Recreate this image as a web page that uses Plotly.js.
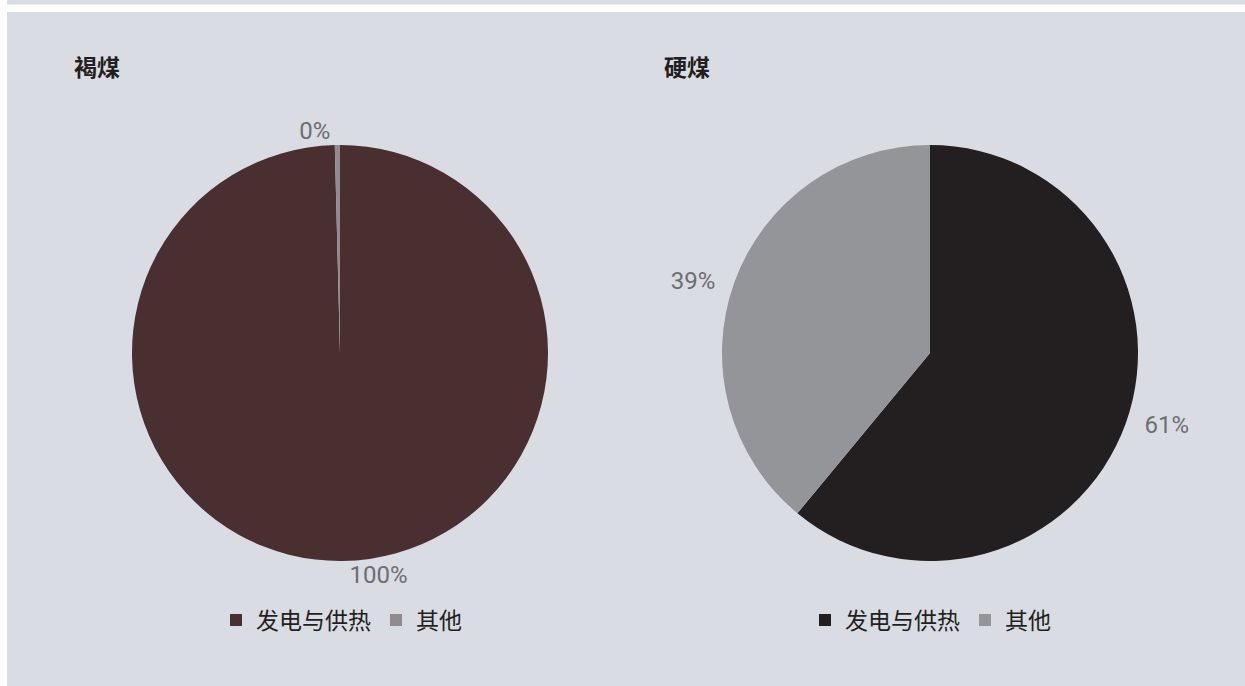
<!DOCTYPE html>
<html>
<head>
<meta charset="utf-8">
<script src="https://cdn.plot.ly/plotly-3.0.1.min.js"></script>
<style>html,body{margin:0;padding:0;background:#fff;}#chart{width:1245px;height:686px;}</style>
</head>
<body>
<div id="chart"></div>
<script>
const categories = ['发电与供热', '其他'];
const ligniteValues = [99.6, 0.4];
const hardCoalValues = [61, 39];
const panelTitles = ['褐煤', '硬煤'];
const ligniteColors = ['#4a2f30', '#928a8d'];
const hardCoalColors = ['#231f20', '#939598'];

const W = 1245, H = 686;
const bg = '#d9dce2';
const cjk = '"Noto Sans CJK SC", "Noto Sans", sans-serif';
const numFont = 'Roboto, "Noto Sans", sans-serif';

function pie(values, colors, x0, x1, legendId, group, templates) {
  return {
    type: 'pie',
    labels: categories,
    values: values,
    marker: {colors: colors, line: {width: 0}},
    sort: false,
    direction: 'clockwise',
    rotation: 0,
    textposition: 'outside',
    texttemplate: templates,
    outsidetextfont: {family: numFont, size: 24, color: '#6d6e71'},
    hoverinfo: 'label+percent',
    domain: {x: [x0 / W, x1 / W], y: [1 - 561 / H, 1 - 145 / H]},
    legend: legendId,
    legendgroup: group,
    automargin: false
  };
}

const data = [
  pie(ligniteValues, ligniteColors, 132, 548, 'legend', 'lignite',
      ['%{percent:.0%}', '%{percent:.0%}']),
  pie(hardCoalValues, hardCoalColors, 722, 1138, 'legend2', 'hardcoal',
      ['  %{percent:.0%}', '%{percent:.0%}  '])
];

const legendStyle = {
  orientation: 'h',
  xanchor: 'center',
  yanchor: 'middle',
  y: 1 - 620 / H,
  font: {family: cjk, size: 23, color: '#231f20'},
  bgcolor: 'rgba(0,0,0,0)',
  itemclick: false,
  traceorder: 'normal',
  itemwidth: 30
};

const layout = {
  width: W,
  height: H,
  margin: {l: 0, r: 0, t: 0, b: 0},
  paper_bgcolor: '#ffffff',
  showlegend: true,
  legend: Object.assign({}, legendStyle, {x: 341.5 / W}),
  legend2: Object.assign({}, legendStyle, {x: 930.5 / W}),
  shapes: [
    {type: 'rect', xref: 'paper', yref: 'paper', x0: 7 / W, x1: 1, y0: 1 - 4.5 / H, y1: 1, fillcolor: bg, line: {width: 0}, layer: 'below'},
    {type: 'rect', xref: 'paper', yref: 'paper', x0: 7 / W, x1: 1, y0: 0, y1: 1 - 12 / H, fillcolor: bg, line: {width: 0}, layer: 'below'}
  ],
  annotations: [
    {text: '<b>' + panelTitles[0] + '</b>', xref: 'paper', yref: 'paper', x: 72 / W, y: 1 - 66 / H, xanchor: 'left', yanchor: 'middle', showarrow: false, font: {family: cjk, size: 23, color: '#231f20'}},
    {text: '<b>' + panelTitles[1] + '</b>', xref: 'paper', yref: 'paper', x: 662 / W, y: 1 - 66 / H, xanchor: 'left', yanchor: 'middle', showarrow: false, font: {family: cjk, size: 23, color: '#231f20'}}
  ]
};

Plotly.newPlot('chart', data, layout, {displayModeBar: false, staticPlot: true});
</script>
</body>
</html>
